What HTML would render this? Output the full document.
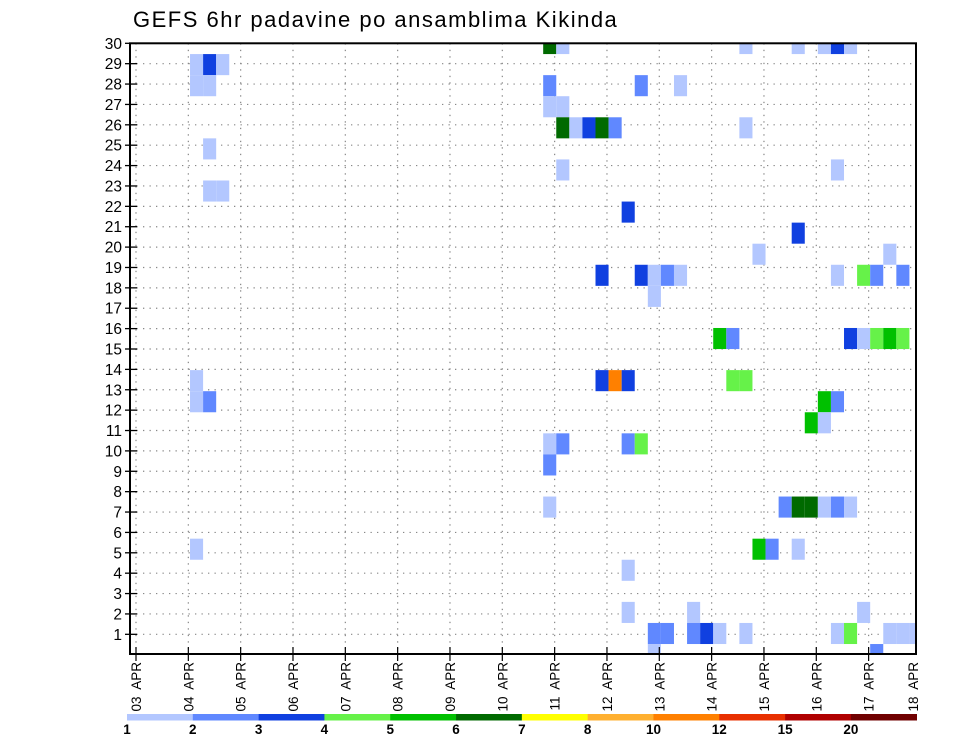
<!DOCTYPE html>
<html><head><meta charset="utf-8"><style>
html,body{margin:0;padding:0;background:#fff;}
svg{display:block;font-family:"Liberation Sans",sans-serif;}
</style></head><body>
<svg id="chart" width="960" height="742" viewBox="0 0 960 742" xmlns="http://www.w3.org/2000/svg">
<text x="133" y="27" font-size="22" fill="#000" letter-spacing="1.5">GEFS 6hr padavine po ansamblima Kikinda</text>
<g id="grid"></g>
<g id="cells"></g>
<rect x="130" y="43.3" width="786" height="610.7" fill="none" stroke="#000" stroke-width="2"/>
<g id="axes"></g>
<g id="legend"></g>
</svg>
<script>
// data: ensemble member, 6-hour step index (from 03 APR 00Z), precip value (mm)
const members = [
29,29,29,29,29,29,29,
28,28,28,
27,27,27,27,27,
26,26,
25,25,25,25,25,25,
24,
23,23,
22,22,
21,
20,
19,19,
18,18,18,18,18,18,18,18,18,
17,
15,15,15,15,15,15,15,
13,13,13,13,13,13,
12,12,12,12,
11,11,
10,10,10,10,
9,
7,7,7,7,7,7,7,
5,5,5,5,
4,
2,2,2,
1,1,1,1,1,1,1,1,1,1,1,
0,0];
const steps = [
31,32,46,50,52,53,54,
4,5,6,
4,5,31,38,41,
31,32,
32,33,34,35,36,46,
5,
32,53,
5,6,
37,
50,
47,57,
35,38,39,40,41,53,55,56,58,
39,
44,45,54,55,56,57,58,
4,35,36,37,45,46,
4,5,52,53,
51,52,
31,32,37,38,
31,
31,49,50,51,52,53,54,
4,47,48,50,
37,
37,42,55,
39,40,42,43,44,46,53,54,57,58,59,
39,56];
const values = [
6.5,1.5,1.5,1.5,1.5,3.5,1.5,
1.5,3.5,1.5,
1.5,1.5,2.5,2.5,1.5,
1.5,1.5,
6.5,1.5,3.5,6.5,2.5,1.5,
1.5,
1.5,1.5,
1.5,1.5,
3.5,
3.5,
1.5,1.5,
3.5,3.5,1.5,2.5,1.5,1.5,4.5,2.5,2.5,
1.5,
5.5,2.5,3.5,1.5,4.5,5.5,4.5,
1.5,3.5,11,3.5,4.5,4.5,
1.5,2.5,5.5,2.5,
5.5,1.5,
1.5,2.5,2.5,4.5,
2.5,
1.5,2.5,6.5,6.5,1.5,2.5,1.5,
1.5,5.5,2.5,1.5,
1.5,
1.5,1.5,1.5,
2.5,2.5,2.5,3.5,1.5,1.5,1.5,4.5,1.5,1.5,1.5,
1.5,2.5];
const levels = [1,2,3,4,5,6,7,8,10,12,15,20];
const levelColors = ["#b3c7ff","#6088ff","#1040e0","#66f249","#00c000","#006a00","#ffff00","#ffb030","#ff8000","#e83000","#b00000","#700000"];
const dayLabels = ["03 APR","04 APR","05 APR","06 APR","07 APR","08 APR","09 APR","10 APR","11 APR","12 APR","13 APR","14 APR","15 APR","16 APR","17 APR","18 APR"];
const yTicks = [1,2,3,4,5,6,7,8,9,10,11,12,13,14,15,16,17,18,19,20,21,22,23,24,25,26,27,28,29,30];

const NS="http://www.w3.org/2000/svg";
const L=130,R=916,T=43.3,B=654;
function xDay(d){return 136+52.33*d;}
function xStep(k){return 137.7+13.08*k;}
function yRow(r){return T+20.38*(30-r);}
function yMember(m){return 33+21.07*(29-m);}
function colorFor(v){let c=levelColors[0];for(let i=0;i<levels.length;i++){if(v>=levels[i])c=levelColors[i];}return c;}
function mk(tag,attrs,parent){const e=document.createElementNS(NS,tag);for(const a in attrs)e.setAttribute(a,attrs[a]);parent.appendChild(e);return e;}

const grid=document.getElementById('grid');
for(let d=0;d<dayLabels.length;d++){const x=xDay(d);if(x>R-2)continue;
 const ln=mk('line',{x1:x,x2:x,y1:T,y2:B,stroke:'#888','stroke-width':1.2,'stroke-dasharray':'1.3 5.2'},grid);
 
 }
for(const r of yTicks){if(r>=30)continue;const y=yRow(r);
 const ln=mk('line',{x1:L,x2:R,y1:y,y2:y,stroke:'#888','stroke-width':1.2,'stroke-dasharray':'1.3 5.2'},grid);
 
 }

const cells=document.getElementById('cells');
const n=Math.min(members.length,steps.length,values.length);
for(let i=0;i<n;i++){
 let x0=Math.max(L,xStep(steps[i])),x1=Math.min(R,xStep(steps[i]+1));
 let y0=Math.max(T,yMember(members[i])),y1=Math.min(B,yMember(members[i])+21.07);
 const r=mk('rect',{x:x0,y:y0,width:x1-x0,height:y1-y0,fill:colorFor(values[i])},cells);
 
 
}

const axes=document.getElementById('axes');
for(const r of yTicks){const y=yRow(r);
 const t=mk('line',{x1:125,x2:137,y1:y,y2:y,stroke:'#000','stroke-width':1.3},axes);
 
 
 const tx=mk('text',{x:122,y:y+5.5,'font-size':15.5,'text-anchor':'end',fill:'#000'},axes);
 tx.textContent=r;
 
 }
for(let d=0;d<dayLabels.length;d++){let x=xDay(d);
 if(x<=R){const t=mk('line',{x1:x,x2:x,y1:647,y2:661,stroke:'#000','stroke-width':1.2},axes);
 
 }
 const lx=Math.min(x,913);
 const tx=mk('text',{x:0,y:0,'font-size':13.5,fill:'#000','text-anchor':'end',transform:'translate('+(lx+5)+',662) rotate(-90)'},axes);
 tx.textContent=dayLabels[d].replace(' ','\u00a0 ');
 
 }

const leg=document.getElementById('legend');
const lw=(916.7-127)/levels.length;
for(let i=0;i<levels.length;i++){
 const r=mk('rect',{x:127+i*lw,y:714,width:lw+0.3,height:6.5,fill:levelColors[i]},leg);
 
 
 const tx=mk('text',{x:127+i*lw,y:734,'font-size':13.5,'font-weight':'bold','text-anchor':'middle',fill:'#000'},leg);
 tx.textContent=levels[i];
 
 }
</script>
</body></html>
